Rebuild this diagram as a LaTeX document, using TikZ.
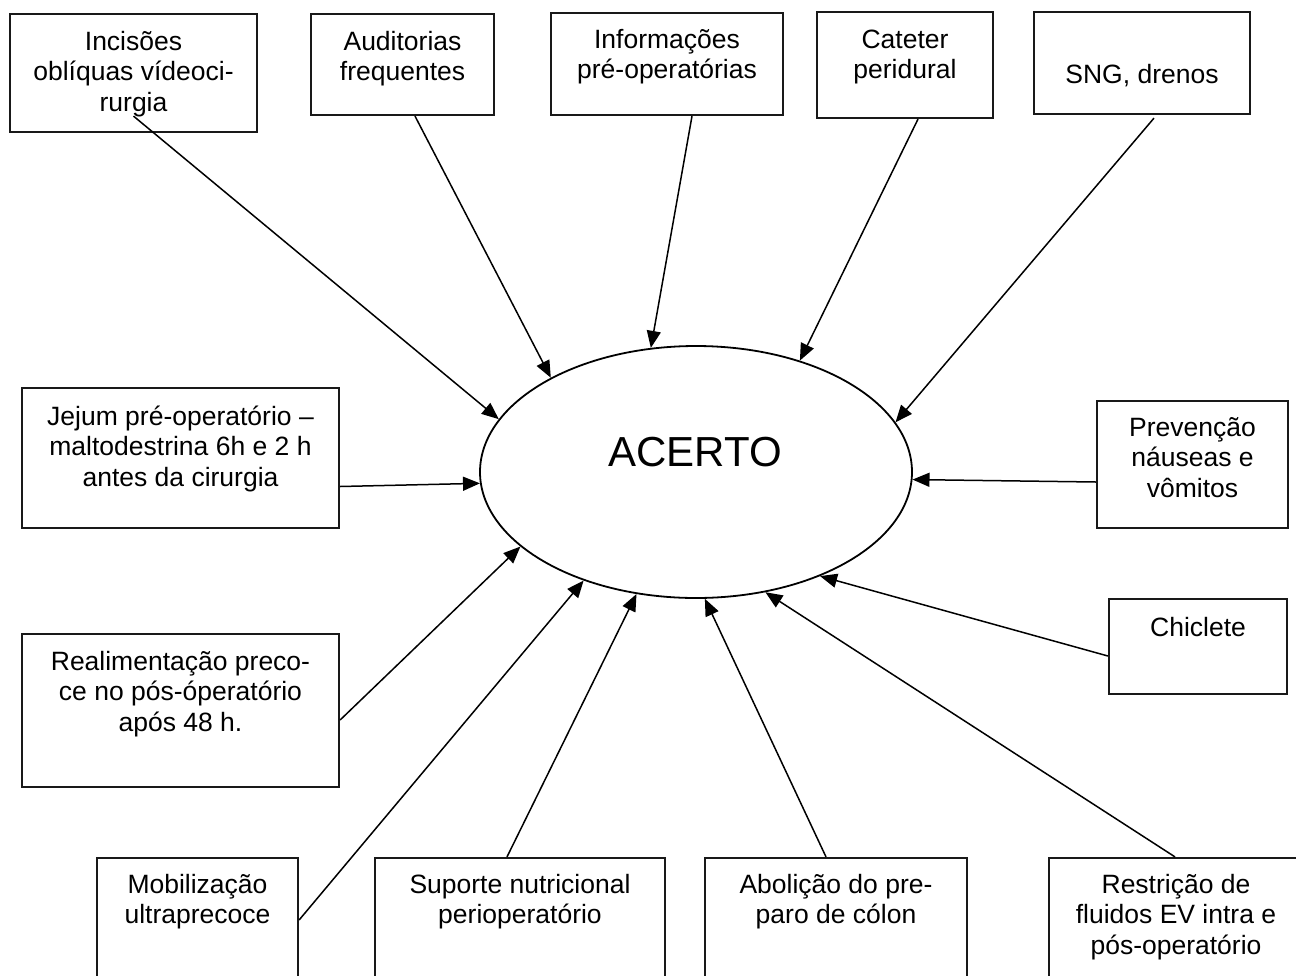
\documentclass[tikz,border=0pt]{standalone}
\usepackage{fontspec}
\setmainfont{Liberation Sans}
\usetikzlibrary{arrows.meta,shapes.geometric}
\tikzset{
  bx/.style={draw=black!90, line width=2.2pt, rectangle, inner sep=0pt},
  tx/.style={anchor=north, align=center, inner sep=0pt, font=\fontsize{26.5}{30.5}\selectfont},
  el/.style={draw=black, line width=1.8pt, ellipse, inner sep=0pt, minimum width=432pt, minimum height=252pt},
  arr/.style={draw=black, line width=1.5pt, -{Triangle[length=17pt,width=14pt]}}
}
\begin{document}
\begin{tikzpicture}[x=1pt,y=-1pt]
\useasboundingbox (0,0) rectangle (1296,975);
\fill[white] (0,0) rectangle (1296,975);

% central ellipse
\node[el] (ac) at (696,472) {};
\node[anchor=base, inner sep=0pt, font=\fontsize{42}{48}\selectfont] (act) at (695,466) {ACERTO};

% top row
\node[bx, minimum width=247pt, minimum height=118pt] (inc) at (133.5,73) {};
\node[tx] (inct) at ([yshift=-16pt]inc.north) {\strut Incisões\\oblíquas vídeoci-\\rurgia};

\node[bx, minimum width=183pt, minimum height=101pt] (aud) at (402.5,64.5) {};
\node[tx] (audt) at ([yshift=-16pt]aud.north) {\strut Auditorias\\frequentes};

\node[bx, minimum width=232pt, minimum height=102pt] (inf) at (667,64) {};
\node[tx] (inft) at ([yshift=-15pt]inf.north) {\strut Informações\\pré-operatórias};

\node[bx, minimum width=176pt, minimum height=106pt] (cat) at (905,65) {};
\node[tx] (catt) at ([yshift=-16pt]cat.north) {\strut Cateter\\peridural};

\node[bx, minimum width=216pt, minimum height=102pt] (sng) at (1142,63) {};
\node[tx] (sngt) at ([yshift=-51pt]sng.north) {\strut SNG, drenos};

% middle rows
\node[bx, minimum width=317pt, minimum height=140pt] (jej) at (180.5,458) {};
\node[tx] (jejt) at ([yshift=-17pt]jej.north) {\strut Jejum pré-operatório –\\maltodestrina 6h e 2 h\\antes da cirurgia};

\node[bx, minimum width=191pt, minimum height=127pt] (prev) at (1192.5,464.5) {};
\node[tx] (prevt) at ([yshift=-15pt]prev.north) {\strut Prevenção\\náuseas e\\vômitos};

\node[bx, minimum width=317pt, minimum height=153pt] (real) at (180.5,710.5) {};
\node[tx] (realt) at ([yshift=-16pt]real.north) {\strut Realimentação preco-\\ce no pós-óperatório\\após 48 h.};

\node[bx, minimum width=178pt, minimum height=95pt] (chic) at (1198,646.5) {};
\node[tx] (chict) at ([yshift=-17pt]chic.north) {\strut Chiclete};

% bottom row
\node[bx, minimum width=201pt, minimum height=135pt] (mob) at (197.5,925.5) {};
\node[tx] (mobt) at ([yshift=-15pt]mob.north) {\strut Mobilização\\ultraprecoce};

\node[bx, minimum width=290pt, minimum height=135pt] (sup) at (520,925.5) {};
\node[tx] (supt) at ([yshift=-15pt]sup.north) {\strut Suporte nutricional\\perioperatório};

\node[bx, minimum width=262pt, minimum height=135pt] (abo) at (836,925.5) {};
\node[tx] (abot) at ([yshift=-15pt]abo.north) {\strut Abolição do pre-\\paro de cólon};

\node[bx, minimum width=254pt, minimum height=135pt] (res) at (1176,925.5) {};
\node[tx] (rest) at ([yshift=-15pt]res.north) {\strut Restrição de\\fluidos EV intra e\\pós-operatório};

% connectors
\draw[arr] ([yshift=17pt]inc.south) -- (ac.165.7);
\draw[arr] ([xshift=12.5pt]aud.south) -- (ac.147.1);
\draw[arr] ([xshift=25pt]inf.south) -- (ac.110);
\draw[arr] ([xshift=13pt]cat.south) -- (ac.47.9);
\draw[arr] ([xshift=12pt,yshift=-3pt]sng.south) -- (ac.14.3);
\draw[arr] ([yshift=-28.5pt]jej.east) -- (ac.183.9);
\draw[arr] ([yshift=-17.5pt]prev.west) -- (ac.-2.6);
\draw[arr] ([yshift=-9.5pt]real.east) -- (ac.203.5);
\draw[arr] ([yshift=5.5pt]mob.east) -- (ac.224);
\draw[arr] ([xshift=-13pt]sup.north) -- (ac.244.5);
\draw[arr] ([xshift=-10pt]abo.north) -- (ac.274.8);
\draw[arr] ([xshift=-1pt]res.north) -- (ac.300.5);
\draw[arr] ([yshift=-9.5pt]chic.west) -- (ac.320.3);
\end{tikzpicture}
\end{document}
